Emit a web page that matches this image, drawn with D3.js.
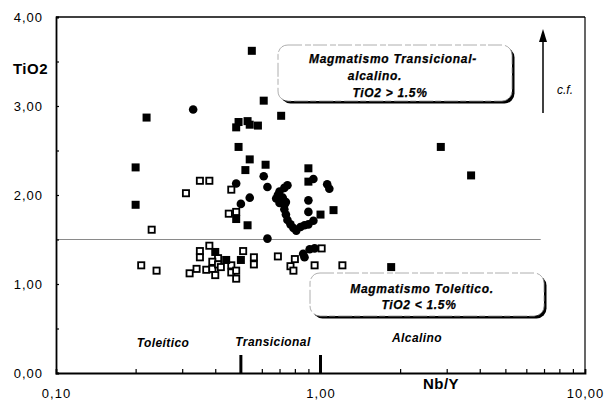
<!DOCTYPE html>
<html>
<head>
<meta charset="utf-8">
<script src="https://cdn.jsdelivr.net/npm/d3@7"></script>
<style>
  html, body { margin: 0; padding: 0; background: #fff; }
  svg { display: block; }
  text { font-family: "Liberation Sans", Arial, sans-serif; fill: #000; }
</style>
</head>
<body>
<svg id="chart" width="607" height="403"></svg>
<script>
// ---------- data ----------
const filledSquareNbY  = [0.20,0.20,0.22,0.55,0.61,0.71,0.48,0.49,0.53,0.54,0.58,0.49,0.54,0.52,0.62,0.90,0.90,1.12,1.00,0.48,0.53,0.50,0.40,0.44,1.85,2.85,3.71];
const filledSquareTiO2 = [2.31,1.89,2.87,3.62,3.06,2.89,2.76,2.82,2.83,2.79,2.78,2.54,2.40,2.28,2.34,2.30,2.15,1.83,1.78,1.73,1.66,1.27,1.36,1.27,1.19,2.54,2.22];

const circleNbY  = [0.33,0.61,0.63,0.48,0.54,0.50,0.75,0.73,0.70,0.69,0.68,0.70,0.73,0.73,0.74,0.75,0.77,0.79,0.81,0.84,0.87,0.90,0.94,0.90,0.90,0.94,1.06,1.08,0.63,0.86,0.87,0.91,0.95,0.72,0.74];
const circleTiO2 = [2.96,2.21,2.09,2.13,1.97,1.90,2.11,2.08,2.04,2.00,1.96,1.91,1.89,1.84,1.78,1.72,1.67,1.63,1.60,1.64,1.66,1.67,1.71,1.94,1.81,2.18,2.12,2.07,1.51,1.34,1.30,1.39,1.40,1.97,1.92];

const openSquareNbY  = [0.35,0.38,0.31,0.46,0.23,0.45,0.48,0.21,0.24,0.32,0.34,0.35,0.35,0.38,0.41,0.39,0.37,0.39,0.40,0.41,0.42,0.46,0.46,0.48,0.48,0.51,0.56,0.56,0.69,0.80,0.77,0.79,0.95,1.21,1.01];
const openSquareTiO2 = [2.16,2.16,2.02,2.06,1.61,1.79,1.81,1.21,1.15,1.12,1.17,1.37,1.30,1.43,1.29,1.25,1.16,1.17,1.10,1.22,1.19,1.21,1.13,1.15,1.06,1.37,1.30,1.22,1.31,1.28,1.20,1.15,1.21,1.21,1.40];

const xTickLabels = ["0,10", "1,00", "10,00"];
const xTickValues = [0.1, 1, 10];
const yTickLabels = ["0,00", "1,00", "2,00", "3,00", "4,00"];
const yTickValues = [0, 1, 2, 3, 4];
const dividerValues = [0.5, 1.0];
const tio2Threshold = 1.5;

const categoryLabels = ["Toleítico", "Transicional", "Alcalino"];
const boxUpperLines = ["Magmatismo Transicional-", "alcalino.", "TiO2 > 1.5%"];
const boxLowerLines = ["Magmatismo Toleítico.", "TiO2 < 1.5%"];

// ---------- setup ----------
const svg = d3.select("#chart");
const x = d3.scaleLog().domain([0.1, 10]).range([56, 585]);
const y = d3.scaleLinear().domain([0, 4]).range([373, 17]);

const fmt = v => xTickLabels[xTickValues.indexOf(v)];
const fmtY = v => yTickLabels[yTickValues.indexOf(v)];

// threshold line
svg.append("line")
  .attr("x1", x(0.1)).attr("x2", x(6.8))
  .attr("y1", y(tio2Threshold)).attr("y2", y(tio2Threshold))
  .attr("stroke", "#8a8a8a").attr("stroke-width", 1);

// frame lines (top, right)
svg.append("line").attr("x1", x(0.1)).attr("x2", x(10)).attr("y1", y(4)).attr("y2", y(4))
  .attr("stroke", "#000").attr("stroke-width", 1.4);
svg.append("line").attr("x1", x(10)).attr("x2", x(10)).attr("y1", y(4)).attr("y2", y(0))
  .attr("stroke", "#000").attr("stroke-width", 1.2);

// minor x ticks
const minorX = [];
[0.1, 1].forEach(d => { for (let k = 2; k <= 9; k++) minorX.push(+(d * k).toFixed(2)); });
svg.append("g").attr("transform", `translate(0,${y(0)})`)
  .call(d3.axisBottom(x).tickValues(minorX).tickSize(-4).tickFormat(""))
  .call(g => g.select(".domain").attr("stroke-width", 1.8))
  .call(g => g.selectAll(".tick line").attr("stroke-width", 1.2));

// x labels
svg.append("g").attr("transform", `translate(0,${y(0)})`)
  .call(d3.axisBottom(x).tickValues(xTickValues).tickSize(0).tickPadding(16).tickFormat(fmt))
  .call(g => g.select(".domain").remove())
  .call(g => g.selectAll("text").attr("font-size", 13).attr("letter-spacing", "1px")
    .attr("font-family", "'Liberation Sans', Arial, sans-serif"));

// thick dividers
svg.selectAll(".divider").data(dividerValues).join("line")
  .attr("class", "divider")
  .attr("x1", d => x(d)).attr("x2", d => x(d))
  .attr("y1", y(0)).attr("y2", y(0) - 18)
  .attr("stroke", "#000").attr("stroke-width", 3);

// y axis
const yMinor = d3.range(0, 4.01, 0.5);
svg.append("g").attr("transform", `translate(${x(0.1)},0)`)
  .call(d3.axisLeft(y).tickValues(yMinor).tickSize(-3).tickFormat(""))
  .call(g => g.select(".domain").attr("stroke-width", 1.8))
  .call(g => g.selectAll(".tick line").attr("stroke-width", 1.2));
svg.append("g").attr("transform", `translate(${x(0.1)},0)`)
  .call(d3.axisLeft(y).tickValues(yTickValues).tickSize(0).tickPadding(13).tickFormat(fmtY))
  .call(g => g.select(".domain").remove())
  .call(g => g.selectAll("text").attr("font-size", 13).attr("letter-spacing", "1px")
    .attr("font-family", "'Liberation Sans', Arial, sans-serif"));

// axis titles
svg.append("text").attr("x", 48).attr("y", 74).attr("text-anchor", "end")
  .attr("font-size", 15).attr("font-weight", "bold").attr("letter-spacing", "0.5px").text("TiO2");
svg.append("text").attr("x", 441).attr("y", 389).attr("text-anchor", "middle")
  .attr("font-size", 15).attr("font-weight", "bold").attr("letter-spacing", "0.5px").text("Nb/Y");

// category labels
const catPos = [[163, 347], [273, 346], [417, 342]];
svg.selectAll(".cat").data(categoryLabels).join("text")
  .attr("class", "cat")
  .attr("x", (d, i) => catPos[i][0]).attr("y", (d, i) => catPos[i][1])
  .attr("text-anchor", "middle").attr("font-size", 12).attr("font-weight", "bold")
  .attr("font-style", "italic").attr("letter-spacing", "0.4px").text(d => d);

// boxes with shadow
function drawBox(bx, by, bw, bh, lines, pos) {
  const g = svg.append("g");
  g.append("rect").attr("x", bx + 2.5).attr("y", by + 2.5).attr("width", bw).attr("height", bh)
    .attr("rx", 10).attr("fill", "#000");
  g.append("rect").attr("x", bx).attr("y", by).attr("width", bw).attr("height", bh)
    .attr("rx", 10).attr("fill", "#fff").attr("stroke", "#9a9a9a").attr("stroke-width", 0.8)
    .attr("stroke-dasharray", "14 3 6 2");
  g.selectAll("text").data(lines).join("text")
    .attr("x", (d, i) => pos[i][0]).attr("y", (d, i) => pos[i][1])
    .attr("text-anchor", "middle").attr("font-size", 12).attr("font-weight", "bold")
    .attr("font-style", "italic").attr("letter-spacing", "0.7px")
    .attr("stroke", "#000").attr("stroke-width", 0.25).text(d => d);
}
drawBox(278, 45, 234, 56, boxUpperLines, [[393, 63], [375, 80], [390, 97]]);
drawBox(310, 273, 234, 43, boxLowerLines, [[422, 293], [419, 309]]);

// arrow + c.f.
svg.append("line").attr("x1", 543).attr("x2", 543).attr("y1", 113).attr("y2", 38)
  .attr("stroke", "#000").attr("stroke-width", 1.5);
svg.append("path").attr("d", "M543,29 L539,42 L547,42 Z").attr("fill", "#000");
svg.append("text").attr("x", 557).attr("y", 94).attr("font-size", 12)
  .attr("font-style", "italic").text("c.f.");

// ---------- marks ----------
const S = 8;
const filledSq = d3.zip(filledSquareNbY, filledSquareTiO2);
const circles = d3.zip(circleNbY, circleTiO2);
const openSq = d3.zip(openSquareNbY, openSquareTiO2);

svg.append("g").selectAll("rect").data(openSq).join("rect")
  .attr("x", d => x(d[0]) - S / 2 + 0.9).attr("y", d => y(d[1]) - S / 2 + 0.9)
  .attr("width", S - 1.8).attr("height", S - 1.8)
  .attr("fill", "#fff").attr("stroke", "#000").attr("stroke-width", 1.8);

svg.append("g").selectAll("circle").data(circles).join("circle")
  .attr("cx", d => x(d[0])).attr("cy", d => y(d[1])).attr("r", 4.3).attr("fill", "#000");

svg.append("g").selectAll("rect").data(filledSq).join("rect")
  .attr("x", d => x(d[0]) - S / 2).attr("y", d => y(d[1]) - S / 2)
  .attr("width", S).attr("height", S).attr("fill", "#000");
</script>
</body>
</html>
